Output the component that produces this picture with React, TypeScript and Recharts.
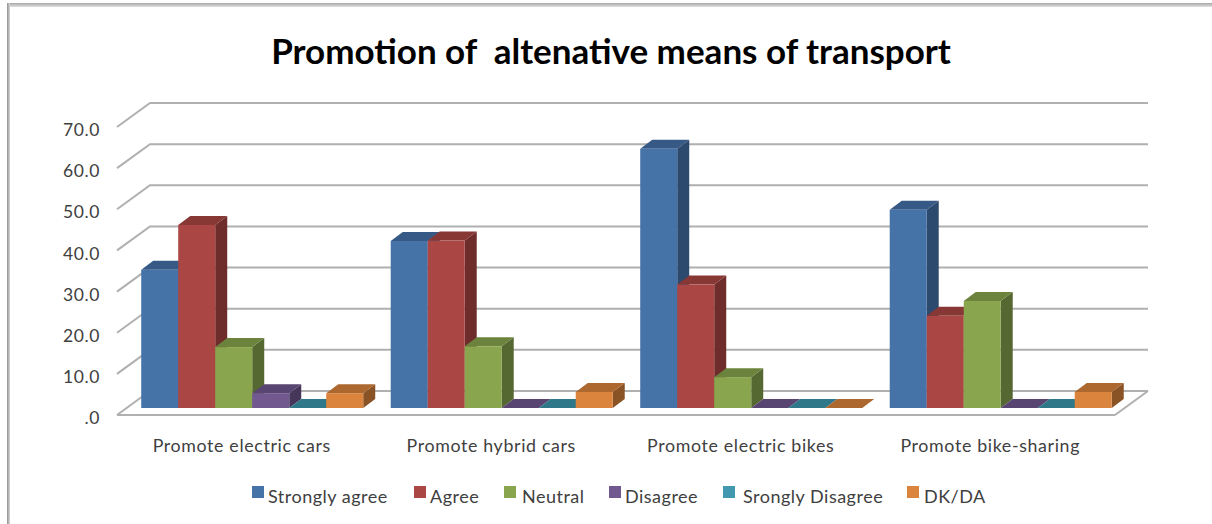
import React from 'react';
import { BarChart, Bar, XAxis, YAxis, CartesianGrid, ReferenceLine } from 'recharts';

// Survey shares per promotion measure, in percent.
const categories = ['Promote electric cars', 'Promote hybrid cars', 'Promote electric bikes', 'Promote bike-sharing'];
const stronglyAgree = [33.6, 40.6, 63.0, 48.2];
const agree = [44.5, 40.7, 30.0, 22.4];
const neutral = [14.8, 15.0, 7.5, 26.0];
const disagree = [3.6, 0, 0, 0];
const stronglyDisagree = [0, 0, 0, 0];
const dkDa = [3.6, 3.9, 0, 3.9];
const yTicks = [0, 10, 20, 30, 40, 50, 60, 70];

const seriesNames = ['Strongly agree', 'Agree', 'Neutral', 'Disagree', 'Srongly Disagree', 'DK/DA'];
const seriesValues = [stronglyAgree, agree, neutral, disagree, stronglyDisagree, dkDa];
const faceColors = ['#4572A7', '#AA4643', '#89A54E', '#71588F', '#4198AF', '#DB843D'];
const topColors = ['#365A85', '#873734', '#6C833D', '#594571', '#2F7889', '#AD682F'];
const sideColors = ['#2C4A6E', '#6E2C2A', '#566832', '#46375A', '#265F6D', '#8A5325'];

const rows = categories.map((name, i) => {
  const row: Record<string, string | number> = { name };
  seriesNames.forEach((s, k) => {
    row[s] = seriesValues[k][i];
  });
  return row;
});

// Wall and floor projection, in pixels.
const WALL_DX = 33;
const WALL_DY = 24;
const FLOOR_DX = 11;
const FLOOR_DY = 7;
const BOX_DX = 12;
const BOX_DY = 9;

const GRID = '#b0b0b0';
const LABEL = '#404040';

// Legend layout: left edge of each swatch and of each caption.
const swatchLeft = [252, 414, 504, 609, 723, 907];
const captionLeft = [268, 430, 522, 625, 743, 924];

function Box3D(props: any) {
  const { x, y, width, height, seriesIndex } = props;
  const l = x + FLOOR_DX;
  const r = l + width;
  const t = y - FLOOR_DY;
  const b = t + height;
  return (
    <g>
      <polygon
        points={`${r},${t} ${r + BOX_DX},${t - BOX_DY} ${r + BOX_DX},${b - BOX_DY} ${r},${b}`}
        fill={sideColors[seriesIndex]}
      />
      <polygon
        points={`${l},${t} ${l + BOX_DX},${t - BOX_DY} ${r + BOX_DX},${t - BOX_DY} ${r},${t}`}
        fill={topColors[seriesIndex]}
      />
      <rect x={l} y={t} width={width} height={height} fill={faceColors[seriesIndex]} />
    </g>
  );
}

// One gridline runs up the side wall, then along the back wall.
function WallLine(props: any) {
  const { x1, x2, y1 } = props;
  return (
    <path
      d={`M${x1},${y1} L${x1 + WALL_DX},${y1 - WALL_DY} L${x2 + WALL_DX},${y1 - WALL_DY}`}
      fill="none"
      stroke={GRID}
      strokeWidth={2}
    />
  );
}

// Right-hand edge of the floor, closing the front line to the back wall.
function FloorEdge(props: any) {
  const { x2, y2 } = props;
  return (
    <path
      d={`M${x2},${y2} L${x2 + WALL_DX},${y2 - WALL_DY}`}
      fill="none"
      stroke={GRID}
      strokeWidth={2}
    />
  );
}

function LegendRow() {
  return (
    <div style={{ fontFamily: 'Lato', fontSize: 18, lineHeight: '22px', color: LABEL, letterSpacing: 0.5, whiteSpace: 'pre' }}>
      {seriesNames.map((s, i) => (
        <React.Fragment key={s}>
          <span style={{ position: 'absolute', left: swatchLeft[i], top: 486, width: 12, height: 12, background: faceColors[i] }} />
          <span style={{ position: 'absolute', left: captionLeft[i], top: 485 }}>{s}</span>
        </React.Fragment>
      ))}
    </div>
  );
}

export default function App() {
  return (
    <div style={{ position: 'absolute', left: 0, top: 0, width: 1212, height: 524, background: '#fff', overflow: 'hidden' }}>
      <div style={{ position: 'absolute', left: 7, top: 3, right: 0, height: 4, background: 'linear-gradient(#a8a8a8, #e0e0e0)' }} />
      <div style={{ position: 'absolute', left: 7, top: 3, bottom: 0, width: 3, background: 'linear-gradient(90deg, #909090, #d8d8d8)' }} />
      <BarChart
        width={1212}
        height={524}
        data={rows}
        margin={{ top: 127, right: 97, bottom: 79, left: 0 }}
        barCategoryGap="5.3%"
        barGap={0}
        style={{ position: 'absolute', left: 0, top: 0 }}
      >
        <text
          x={611}
          y={64}
          textAnchor="middle"
          fontFamily="Lato"
          fontWeight={700}
          fontSize={35}
          fill="#000"
          style={{ whiteSpace: 'pre' }}
        >
          Promotion of  altenative means of transport
        </text>
        <CartesianGrid vertical={false} horizontal={(p: any) => <WallLine key={p.key ?? p.index} {...p} />} />
        <XAxis
          dataKey="name"
          axisLine={{ stroke: GRID, strokeWidth: 2 }}
          tickLine={false}
          tick={{ fill: LABEL, fontFamily: 'Lato', fontSize: 17.8, letterSpacing: 0.65 }}
          tickMargin={18}
        />
        <YAxis
          width={117}
          domain={[0, 70]}
          ticks={yTicks}
          axisLine={false}
          tickLine={false}
          tickFormatter={(v: number) => (v === 0 ? '.0' : v.toFixed(1))}
          tick={{ fill: LABEL, fontFamily: 'Lato', fontSize: 17.5, letterSpacing: 0.6, dy: 3 }}
          tickMargin={11}
        />
        <ReferenceLine y={0} shape={(p: any) => <FloorEdge {...p} />} />
        {seriesNames.map((s, k) => (
          <Bar
            key={s}
            dataKey={s}
            isAnimationActive={false}
            shape={(p: any) => <Box3D {...p} seriesIndex={k} />}
          />
        ))}
      </BarChart>
      <LegendRow />
    </div>
  );
}
